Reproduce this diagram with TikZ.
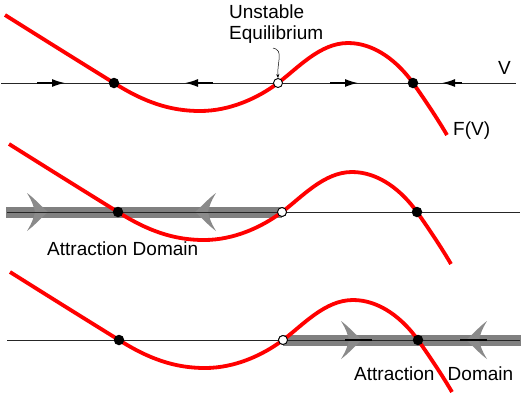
\documentclass[tikz,border=0pt]{standalone}
\usepackage{fontspec}
\setmainfont{Liberation Sans}
\usetikzlibrary{arrows.meta}
\definecolor{bandgray}{RGB}{128,128,128}
\definecolor{headgray}{RGB}{138,138,138}
\tikzset{
  axis/.style={line width=0.9pt, black!85},
  fcurve/.style={red, line width=3.8pt},
  stable/.style={circle, fill=black, inner sep=0pt, minimum size=10.5pt},
  unstable/.style={circle, draw=black, fill=white, line width=0.9pt, inner sep=0pt, minimum size=9pt},
  shaft/.style={line width=1.5pt, -{Latex[length=13pt,width=8pt]}},
  shaftonly/.style={line width=1.5pt},
  band/.style={bandgray, line width=11pt},
  lbl/.style={inner sep=0pt, font=\fontsize{19}{21}\selectfont},
  garrow/.pic={\fill[headgray] (0,0) .. controls (-6,-5) and (-14,-14) .. (-21,-19)
      .. controls (-16,-11) and (-14,-5) .. (-13,0)
      .. controls (-14,5) and (-16,11) .. (-21,19)
      .. controls (-14,14) and (-6,5) .. (0,0) -- cycle;},
  fcurvepic/.pic={\draw[fcurve] (5,15) .. controls (40,37) and (80,62) .. (114,83)
      .. controls (144,102) and (170,111) .. (200,111)
      .. controls (230,111) and (258,98) .. (278,83)
      .. controls (298,68) and (320,43) .. (348,43)
      .. controls (375,43) and (398,62) .. (413,83)
      .. controls (425,100) and (437,118) .. (447,135);}
}
\begin{document}
\begin{tikzpicture}[x=1pt,y=-1pt]
\useasboundingbox (0,0) rectangle (524,397);

% ---------- panel 1 ----------
\coordinate (a1l) at (1,83);
\coordinate (a1r) at (516,83);
\draw[axis] (a1l) -- (a1r);
\coordinate (h1a) at (37,83);  \coordinate (t1a) at (65,83);
\coordinate (h1b) at (213,83); \coordinate (t1b) at (185,83);
\coordinate (h1c) at (330,83); \coordinate (t1c) at (358,83);
\coordinate (h1d) at (462,83); \coordinate (t1d) at (442,83);
\draw[shaft] (h1a) -- (t1a);
\draw[shaft] (h1b) -- (t1b);
\draw[shaft] (h1c) -- (t1c);
\draw[shaft] (h1d) -- (t1d);
\pic at (0,0) {fcurvepic};
\node[stable] (s1a) at (114,83) {};
\node[unstable] (u1) at (278,83) {};
\node[stable] (s1b) at (413,83) {};
\node[lbl, anchor=north west, align=left] (ue) at (229,5) {Unstable\\Equilibrium};
\coordinate (ptr) at (273,48);
\draw[line width=0.5pt, -{Stealth[length=4pt,width=3pt]}] (ptr) .. controls (284,50) and (277,62) .. (u1.north);
\node[lbl, anchor=base west] (vl) at (498,74) {V};
\node[lbl, anchor=base west] (fv) at (453,135) {F(V)};

% ---------- panel 2 ----------
\coordinate (a2l) at (7,212);
\coordinate (a2r) at (520,212);
\coordinate (b2l) at (6,212);
\node[unstable] (u2) at (282,212) {};
\draw[band] (b2l) -- (u2.center);
\pic at (48,212) {garrow};
\pic[rotate=180] at (195,212) {garrow};
\draw[axis] (a2l) -- (a2r);
\pic at (4,129) {fcurvepic};
\node[stable] (s2a) at (118,212) {};
\node[unstable] (u2b) at (282,212) {};
\node[stable] (s2b) at (417,212) {};
\node[lbl, anchor=base west] (ad2) at (47,255) {Attraction Domain};

% ---------- panel 3 ----------
\coordinate (a3l) at (7,340);
\coordinate (a3r) at (520,340);
\coordinate (b3r) at (521,340);
\node[unstable] (u3) at (283,340) {};
\draw[band] (u3.center) -- (b3r);
\pic at (362,340) {garrow};
\pic[rotate=180] at (466,340) {garrow};
\draw[axis] (a3l) -- (a3r);
\coordinate (h3a) at (345,340); \coordinate (t3a) at (372,340);
\coordinate (h3b) at (460,340); \coordinate (t3b) at (487,340);
\draw[shaftonly] (h3a) -- (t3a);
\draw[shaftonly] (h3b) -- (t3b);
\pic at (5,257) {fcurvepic};
\node[stable] (s3a) at (119,340) {};
\node[unstable] (u3b) at (283,340) {};
\node[stable] (s3b) at (418,340) {};
\node[lbl, anchor=base west] (ad3) at (354,380) {Attraction\hspace{8pt} Domain};
\end{tikzpicture}
\end{document}
